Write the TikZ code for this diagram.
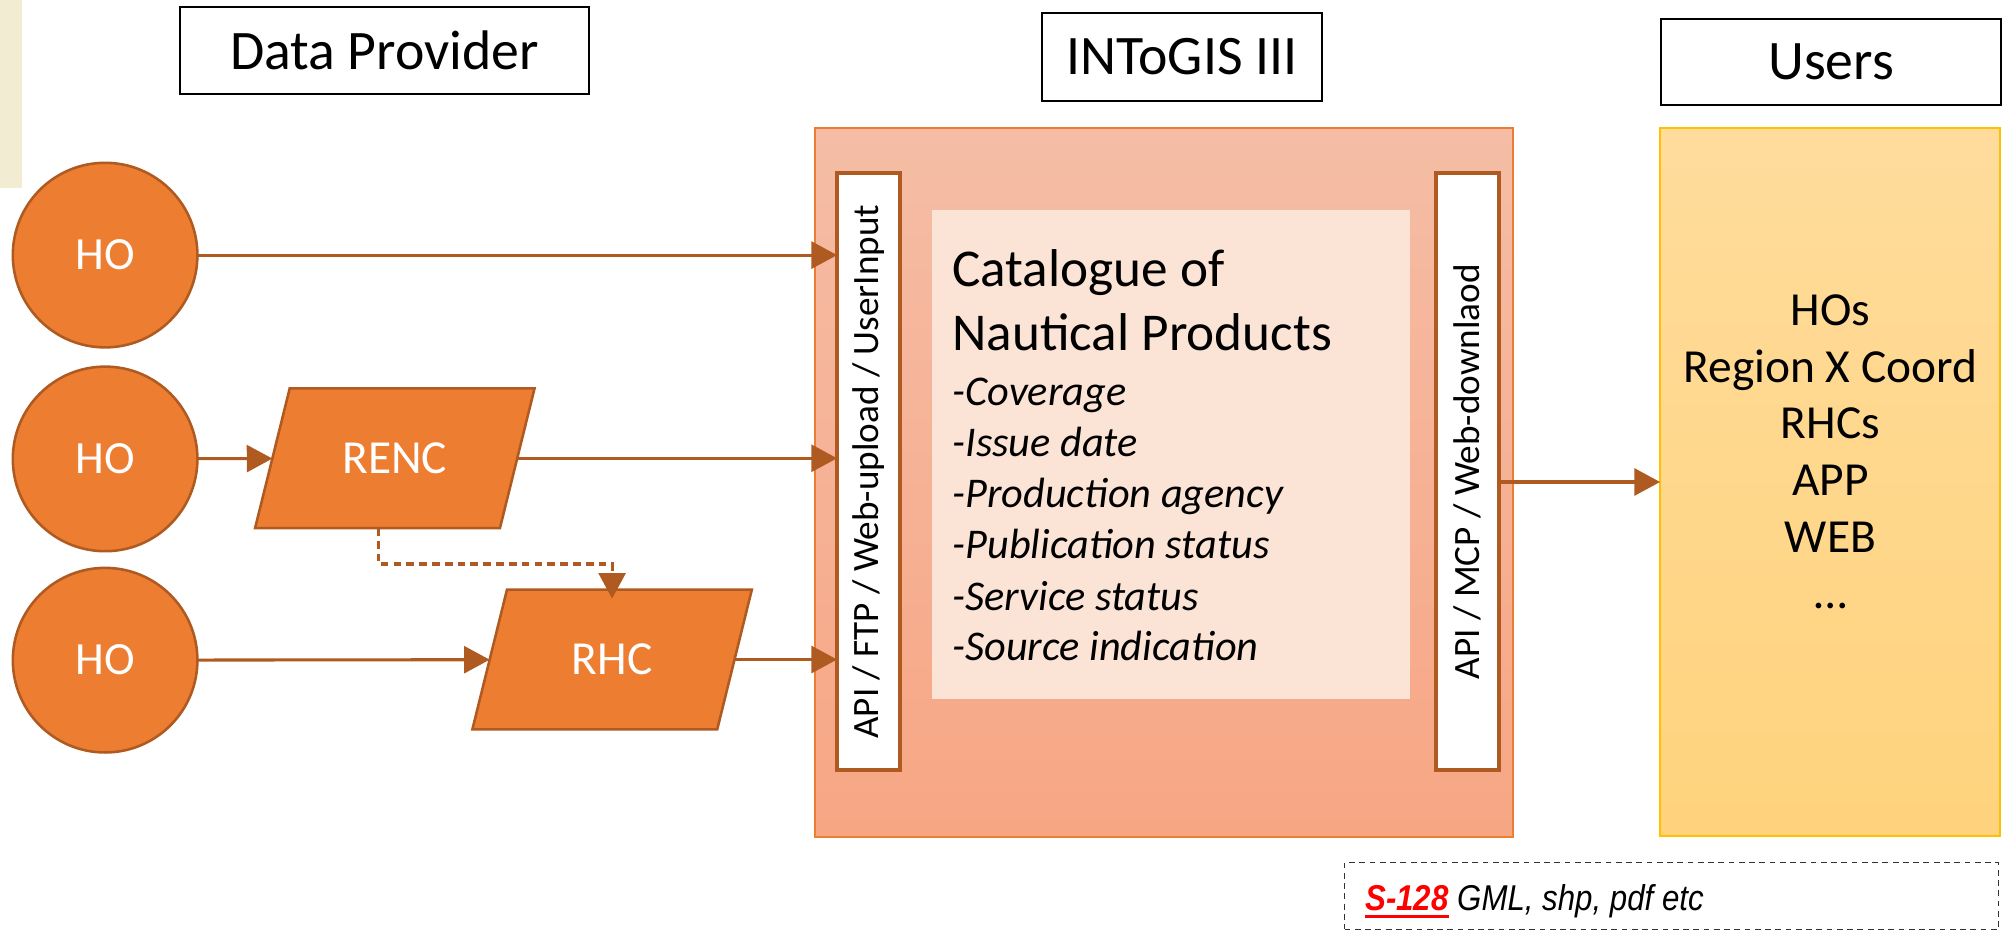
\documentclass[tikz,border=0pt]{standalone}
\usepackage{fontspec}
\setmainfont{Carlito}
\newfontfamily\legendfont[FakeStretch=0.87]{Liberation Sans}
\usetikzlibrary{arrows.meta,calc}
\definecolor{hoorange}{HTML}{ED7D31}
\definecolor{arrowc}{HTML}{AE5A21}
\definecolor{boxtop}{HTML}{F5BDA6}
\definecolor{boxbot}{HTML}{F7A684}
\definecolor{boxedge}{HTML}{ED7D31}
\definecolor{catfill}{HTML}{FBE3D6}
\definecolor{ytop}{HTML}{FFDC9C}
\definecolor{ybot}{HTML}{FFD37D}
\definecolor{yedge}{HTML}{FFC000}
\definecolor{beige}{HTML}{F2ECD3}
\newcommand\redul[1]{\setbox0\hbox{#1}\rlap{\raisebox{-6pt}{\rule{\wd0}{2.5pt}}}\box0}
\tikzset{
  titlebox/.style={draw=black, line width=1.5pt, fill=white, inner sep=0pt, font=\fontsize{43.5}{52}\selectfont},
  hocirc/.style={circle, draw=arrowc, line width=2pt, fill=hoorange, minimum size=144pt, inner sep=0pt, text=white, font=\fontsize{36}{43}\selectfont},
  parabox/.style={rectangle, minimum width=191pt, minimum height=109pt, inner sep=0pt},
  parashape/.style={draw=arrowc, line width=2pt, fill=hoorange, line join=miter},
  paratext/.style={inner sep=0pt, text=white, font=\fontsize{37}{44}\selectfont},
  bar/.style={draw=arrowc, line width=3pt, fill=white, minimum width=49pt, minimum height=466pt, inner sep=0pt},
  vtext/.style={rotate=90, font=\fontsize{29}{35}\selectfont, inner sep=0pt},
  flow/.style={draw=arrowc, line width=2.4pt, -{Triangle[length=20pt,width=21pt]}},
  cattitle/.style={anchor=base west, inner sep=0pt, font=\fontsize{41.5}{48}\selectfont},
  catitem/.style={anchor=base west, inner sep=0pt, font=\fontsize{33}{38}\selectfont\itshape},
}
\begin{document}
\begin{tikzpicture}[x=1pt,y=-1pt,every node/.append style={outer sep=0pt}]
\useasboundingbox (0,0) rectangle (1568,727);
\fill[beige] (0,0) rectangle (17,147);

% titles
\node[titlebox, minimum width=319pt, minimum height=68pt] (dp) at (300,39.5) {Data Provider};
\node[titlebox, minimum width=218pt, minimum height=69pt] (ig) at (922,44.5) {INToGIS III};
\node[titlebox, minimum width=265pt, minimum height=67pt] (ut) at (1428.5,48.5) {Users};

% INToGIS block
\node[draw=boxedge, line width=1.5pt, top color=boxtop, bottom color=boxbot, minimum width=544pt, minimum height=553pt, inner sep=0pt] (intogis) at (908,376.5) {};
\node[fill=catfill, minimum width=373pt, minimum height=381pt, inner sep=0pt] (cat) at (913.5,354.5) {};
\node[bar] (inbar) at (677.5,368) {};
\node[bar] (outbar) at (1145,368) {};
\node[vtext] (intext) at (inbar.center) {API / FTP / Web-upload / UserInput};
\node[vtext] (outtext) at (outbar.center) {API / MCP / Web-downlaod};

\node[cattitle] (c1) at (743,223.6) {Catalogue of};
\node[cattitle] (c2) at (743,273.6) {Nautical Products};
\node[catitem] (c3) at (743,316) {-Coverage};
\node[catitem] (c4) at (743,356) {-Issue date};
\node[catitem] (c5) at (743,396) {-Production agency};
\node[catitem] (c6) at (743,436) {-Publication status};
\node[catitem] (c7) at (743,476) {-Service status};
\node[catitem] (c8) at (743,515.6) {-Source indication};

% users block
\node[draw=yedge, line width=1.5pt, top color=ytop, bottom color=ybot, minimum width=265pt, minimum height=552pt, inner sep=0pt] (users) at (1427.5,376) {};
\node[anchor=north, inner sep=0pt, align=center, font=\fontsize{37}{44.2}\selectfont] (ulist) at (1428,230) {HOs\\Region X Coord\\RHCs\\APP\\WEB\\\ldots};

% providers
\node[hocirc] (ho1) at (82,199) {HO};
\node[hocirc] (ho2) at (82,358) {HO};
\node[hocirc] (ho3) at (82,515) {HO};
\node[parabox] (renc) at (308,357.5) {};
\node[parabox] (rhc) at (477.5,514.5) {};
\foreach \p in {renc,rhc}{
  \draw[parashape] ($(\p.south west)+(-13.5,0)$) -- ($(\p.north west)+(13.5,0)$)
     -- ($(\p.north east)+(13.5,0)$) -- ($(\p.south east)+(-13.5,0)$) -- cycle;
}
\node[paratext] (renctext) at (renc.center) {RENC};
\node[paratext] (rhctext) at (rhc.center) {RHC};

% connectors
\draw[flow] (ho1) -- (ho1 -| inbar.west);
\draw[flow] (ho2) -- (renc);
\draw[flow] (renc) -- (renc -| inbar.west);
\draw[flow] (ho3) -- (rhc);
\draw[flow] (rhc) -- (rhc -| inbar.west);
\draw[flow, dash pattern=on 6pt off 4pt, shorten >=-7pt] ([xshift=-13pt]renc.south) -- ++(0,28) -| (rhc.north);
\draw[flow] (outbar.east |- users.west) -- (users.west);

% legend
\node[draw=black!80, line width=1.2pt, dash pattern=on 4.5pt off 3.5pt, minimum width=510pt, minimum height=52pt, inner sep=0pt] (legend) at (1304,699) {};
\node[anchor=base west, inner sep=0pt, font=\legendfont\fontsize{28}{32}\selectfont] (legtext) at (1065,710.4) {\textcolor{red}{\redul{\textbf{\textit{S-128}}}} \textit{GML, shp, pdf etc}};
\end{tikzpicture}
\end{document}
